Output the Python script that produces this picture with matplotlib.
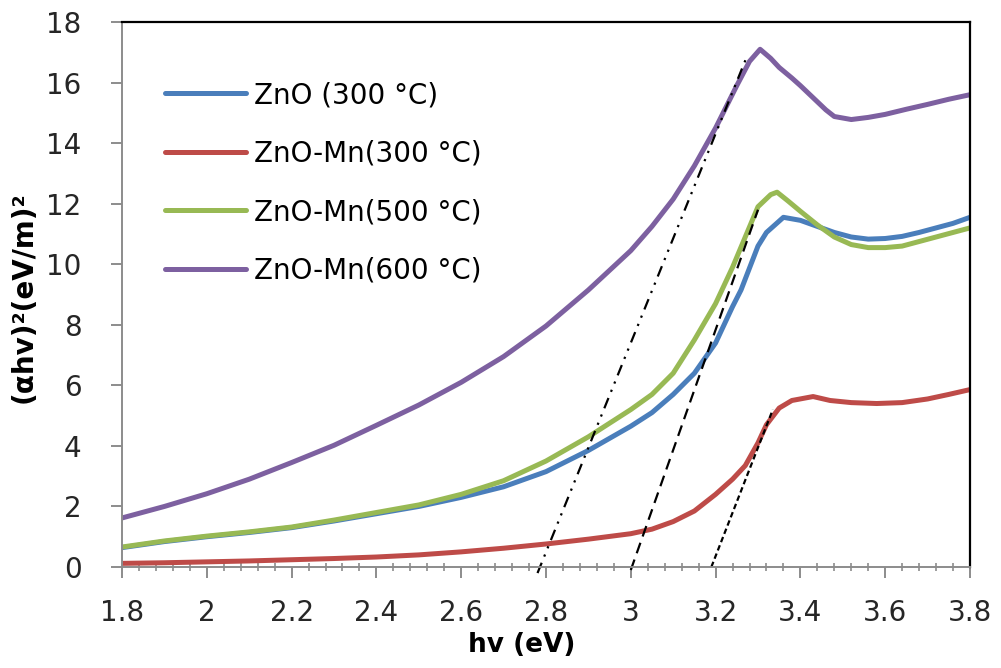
import matplotlib
matplotlib.use("Agg")
import matplotlib.pyplot as plt
from matplotlib.ticker import MultipleLocator

# curves
x_zno300 = [1.80, 1.90, 2.00, 2.10, 2.20, 2.30, 2.40, 2.50, 2.60, 2.70, 2.80, 2.90,
            3.00, 3.05, 3.10, 3.15, 3.20, 3.24, 3.26, 3.30, 3.32, 3.36, 3.40, 3.44,
            3.48, 3.52, 3.56, 3.60, 3.64, 3.68, 3.72, 3.76, 3.80]
y_zno300 = [0.64, 0.84, 1.00, 1.14, 1.30, 1.52, 1.76, 2.00, 2.30, 2.65, 3.15, 3.85,
            4.65, 5.10, 5.70, 6.40, 7.40, 8.60, 9.15, 10.60, 11.05, 11.55, 11.45, 11.25,
            11.05, 10.90, 10.83, 10.85, 10.92, 11.05, 11.20, 11.35, 11.55]

x_mn300 = [1.80, 1.90, 2.00, 2.10, 2.20, 2.30, 2.40, 2.50, 2.60, 2.70, 2.80, 2.90,
           3.00, 3.05, 3.10, 3.15, 3.20, 3.24, 3.27, 3.30, 3.32, 3.35, 3.38, 3.43,
           3.47, 3.52, 3.58, 3.64, 3.70, 3.75, 3.80]
y_mn300 = [0.12, 0.14, 0.17, 0.20, 0.24, 0.28, 0.33, 0.40, 0.50, 0.62, 0.76, 0.92,
           1.10, 1.25, 1.50, 1.85, 2.40, 2.90, 3.35, 4.10, 4.70, 5.25, 5.50, 5.63,
           5.50, 5.43, 5.40, 5.43, 5.55, 5.70, 5.86]

x_mn500 = [1.80, 1.90, 2.00, 2.10, 2.20, 2.30, 2.40, 2.50, 2.60, 2.70, 2.80, 2.90,
           3.00, 3.05, 3.10, 3.15, 3.20, 3.24, 3.27, 3.30, 3.33, 3.345, 3.37, 3.40,
           3.44, 3.48, 3.52, 3.56, 3.60, 3.64, 3.68, 3.72, 3.76, 3.80]
y_mn500 = [0.66, 0.86, 1.02, 1.16, 1.32, 1.55, 1.80, 2.05, 2.40, 2.85, 3.50, 4.30,
           5.20, 5.70, 6.40, 7.50, 8.70, 9.90, 10.90, 11.90, 12.30, 12.38, 12.10, 11.75,
           11.30, 10.90, 10.65, 10.55, 10.55, 10.60, 10.75, 10.90, 11.05, 11.20]

x_mn600 = [1.80, 1.90, 2.00, 2.10, 2.20, 2.30, 2.40, 2.50, 2.60, 2.70, 2.80, 2.90,
           3.00, 3.05, 3.10, 3.15, 3.20, 3.25, 3.28, 3.305, 3.33, 3.35, 3.38, 3.40,
           3.43, 3.46, 3.48, 3.52, 3.56, 3.60, 3.65, 3.70, 3.75, 3.80]
y_mn600 = [1.62, 2.00, 2.42, 2.90, 3.45, 4.02, 4.68, 5.35, 6.10, 6.95, 7.96, 9.15,
           10.45, 11.25, 12.15, 13.25, 14.50, 15.90, 16.70, 17.10, 16.80, 16.50, 16.15, 15.90,
           15.50, 15.10, 14.88, 14.78, 14.85, 14.95, 15.12, 15.28, 15.45, 15.60]

# band-gap extrapolation lines (start, end)
tan600_x = [2.78, 3.275]
tan600_y = [-0.2, 16.9]
tan500_x = [3.00, 3.30]
tan500_y = [-0.1, 11.8]
tanmn300_x = [3.19, 3.335]
tanmn300_y = [0.0, 5.2]

labels = ["ZnO (300 °C)", "ZnO-Mn(300 °C)", "ZnO-Mn(500 °C)", "ZnO-Mn(600 °C)"]
colors = ["#4a7ebb", "#be4b48", "#98b954", "#7d60a0"]

fig = plt.figure(figsize=(10.01, 6.68), dpi=100)
ax = fig.add_axes([0.1219, 0.1512, 0.969 - 0.1219, 0.967 - 0.1512])

series = [(x_zno300, y_zno300), (x_mn300, y_mn300), (x_mn500, y_mn500), (x_mn600, y_mn600)]
for (xs, ys), lab, c in zip(series, labels, colors):
    ax.plot(xs, ys, color=c, lw=3.6, label=lab, solid_capstyle="round",
            solid_joinstyle="round")

ax.plot(tan600_x, tan600_y, color="black", lw=1.6, ls=(0, (5, 3, 1, 3, 1, 3)), clip_on=False)
ax.plot(tan500_x, tan500_y, color="black", lw=1.6, ls=(0, (5, 3)), clip_on=False)
ax.plot(tanmn300_x, tanmn300_y, color="black", lw=1.6, ls=(0, (2.5, 1.5)), clip_on=False)

ax.set_xlim(1.8, 3.8)
ax.set_ylim(0, 18)
ax.xaxis.set_minor_locator(MultipleLocator(0.04))
ax.yaxis.set_major_locator(MultipleLocator(2))
ax.set_xticks([1.8, 2.0, 2.2, 2.4, 2.6, 2.8, 3.0, 3.2, 3.4, 3.6, 3.8])
ax.set_xticklabels(["1.8", "2", "2.2", "2.4", "2.6", "2.8", "3", "3.2", "3.4", "3.6", "3.8"])

for s in ["top", "right"]:
    ax.spines[s].set_color("black")
    ax.spines[s].set_linewidth(1.6)
for s in ["left", "bottom"]:
    ax.spines[s].set_color("#8c8c8c")
    ax.spines[s].set_linewidth(1.4)

ax.tick_params(axis="x", which="major", direction="out", length=8, width=1.4,
               color="#8c8c8c", pad=15, labelsize=20, labelcolor="#262626")
ax.tick_params(axis="x", which="minor", direction="inout", length=6, width=1.2,
               color="#8c8c8c")
ax.tick_params(axis="y", which="major", direction="out", length=8, width=1.4,
               color="#8c8c8c", pad=21, labelsize=20, labelcolor="#262626")

fig.text(522 / 1001, 1 - 645 / 668, "hv (eV)", ha="center", va="center",
         fontsize=19, fontweight="bold", color="black")
fig.text(24 / 1001, 1 - 297 / 668, "(αhv)²(eV/m)²", ha="center", va="center",
         rotation=90, fontsize=20, fontweight="bold", color="black")

leg = ax.legend(loc="upper left", bbox_to_anchor=(0.038, 0.912), frameon=False,
                fontsize=20, handlelength=2.9, handletextpad=0.3, labelspacing=1.1,
                borderaxespad=0)
for line in leg.get_lines():
    line.set_linewidth(3.6)

fig.savefig("out.png", dpi=100)
